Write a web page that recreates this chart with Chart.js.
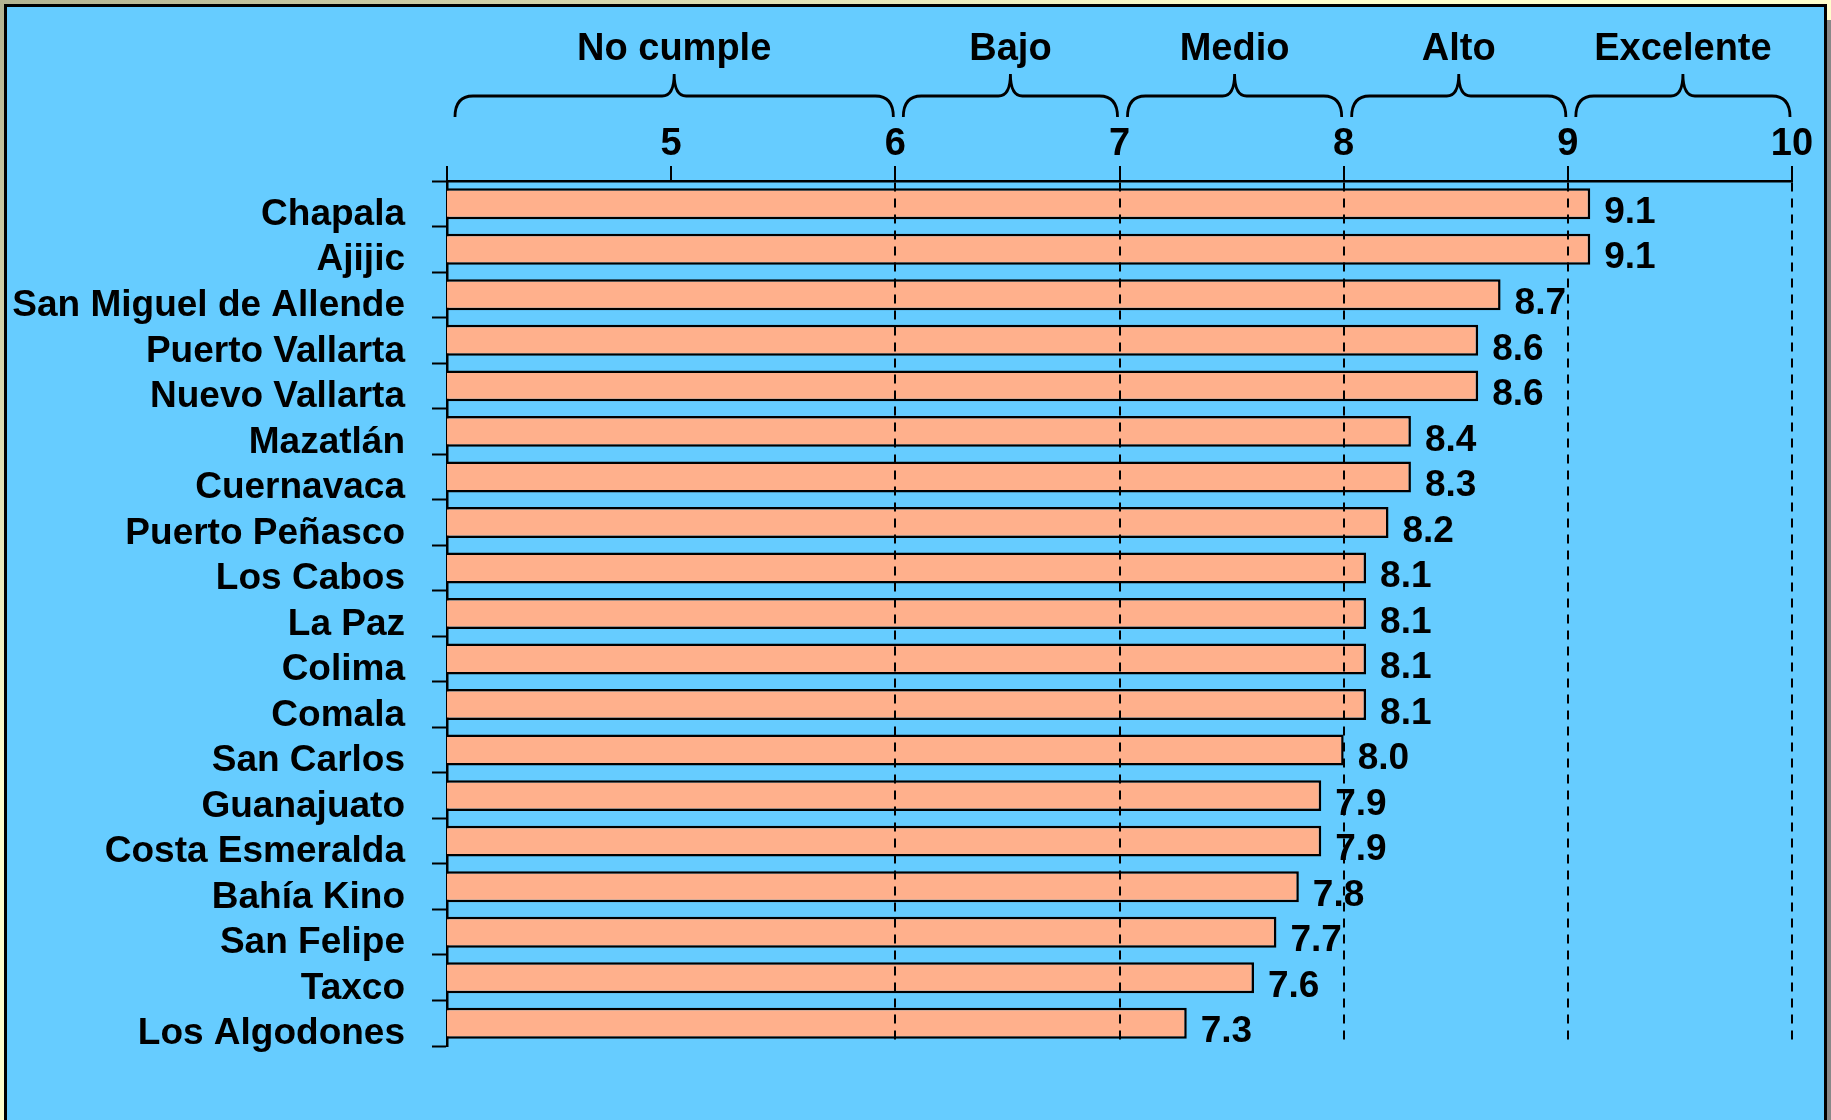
<!DOCTYPE html>
<html>
<head>
<meta charset="utf-8">
<script src="https://cdn.jsdelivr.net/npm/chart.js@4.4.1/dist/chart.umd.min.js"></script>
<style>
  html, body { margin: 0; padding: 0; }
  body { width: 1831px; height: 1120px; overflow: hidden; position: relative;
         background: linear-gradient(to bottom right, #b3b391 0%, #ffffcc 35%, #ffffcc 100%); }
  .shadow { position: absolute; left: 1827px; top: 20px; width: 4px; bottom: 0; background: #888888; }
  .panel { position: absolute; left: 4px; top: 4px; width: 1817px; height: 1130px;
           border: 3px solid #000; background: #66ccff; }
  .wrap { position: absolute; left: 0; top: 0; width: 1831px; height: 1120px; }
</style>
</head>
<body>
<div class="shadow"></div>
<div class="panel"></div>
<div class="wrap"><canvas id="chart"></canvas></div>
<script>
// --- DATA ---
const cities = ['Chapala', 'Ajijic', 'San Miguel de Allende', 'Puerto Vallarta', 'Nuevo Vallarta',
  'Mazatlán', 'Cuernavaca', 'Puerto Peñasco', 'Los Cabos', 'La Paz', 'Colima', 'Comala',
  'San Carlos', 'Guanajuato', 'Costa Esmeralda', 'Bahía Kino', 'San Felipe', 'Taxco', 'Los Algodones'];
const scores = [9.1, 9.1, 8.7, 8.6, 8.6, 8.3, 8.3, 8.2, 8.1, 8.1, 8.1, 8.1, 8.0, 7.9, 7.9, 7.8, 7.7, 7.6, 7.3];
const scoreLabels = ['9.1', '9.1', '8.7', '8.6', '8.6', '8.4', '8.3', '8.2', '8.1', '8.1', '8.1', '8.1',
  '8.0', '7.9', '7.9', '7.8', '7.7', '7.6', '7.3'];
const axisMin = 4, axisMax = 10;
const bandNames = ['No cumple', 'Bajo', 'Medio', 'Alto', 'Excelente'];
const bandFrom = [4, 6, 7, 8, 9];
const bandTo = [6, 7, 8, 9, 10];

const FONT = '"Liberation Sans", Arial, Helvetica, sans-serif';

// value labels at the end of each bar
const valueLabels = {
  id: 'valueLabels',
  afterDraw(chart) {
    const ctx = chart.ctx;
    ctx.save();
    ctx.font = 'bold 37px ' + FONT;
    ctx.fillStyle = '#000';
    ctx.textAlign = 'left';
    ctx.textBaseline = 'middle';
    chart.getDatasetMeta(0).data.forEach((bar, i) => {
      ctx.fillText(scoreLabels[i], bar.x + 14, bar.y + 9);
    });
    ctx.restore();
  }
};

// curly braces + band names above the top axis
const bands = {
  id: 'bands',
  afterDraw(chart) {
    const ctx = chart.ctx;
    const x = chart.scales.x;
    const top = chart.chartArea.top;
    const yEnd = top - 64, yFlat = top - 85, yTip = top - 107, yText = top - 131;
    ctx.save();
    ctx.strokeStyle = '#000';
    ctx.lineWidth = 2.8;
    ctx.font = 'bold 38px ' + FONT;
    ctx.fillStyle = '#000';
    ctx.textAlign = 'center';
    ctx.textBaseline = 'middle';
    bandNames.forEach((name, i) => {
      const x0 = x.getPixelForValue(bandFrom[i]) + 8;
      const x1 = x.getPixelForValue(bandTo[i]) - 2;
      const xm = (x0 + x1) / 2;
      ctx.beginPath();
      ctx.moveTo(x0, yEnd);
      ctx.quadraticCurveTo(x0, yFlat, x0 + 18, yFlat);
      ctx.lineTo(xm - 12, yFlat);
      ctx.quadraticCurveTo(xm, yFlat, xm, yTip);
      ctx.quadraticCurveTo(xm, yFlat, xm + 12, yFlat);
      ctx.lineTo(x1 - 18, yFlat);
      ctx.quadraticCurveTo(x1, yFlat, x1, yEnd);
      ctx.stroke();
      ctx.fillText(name, xm, yText);
    });
    ctx.restore();
  }
};

new Chart(document.getElementById('chart').getContext('2d'), {
  type: 'bar',
  data: {
    labels: cities,
    datasets: [{
      data: scores,
      backgroundColor: '#ffb08c',
      borderColor: '#000',
      borderWidth: 2.5,
      borderSkipped: false,
      barPercentage: 0.68,
      categoryPercentage: 1
    }]
  },
  options: {
    indexAxis: 'y',
    responsive: true,
    maintainAspectRatio: false,
    animation: false,
    layout: { padding: { top: 0, left: 0, right: 39, bottom: 74 } },
    plugins: { legend: { display: false }, tooltip: { enabled: false } },
    scales: {
      x: {
        type: 'linear', position: 'top', min: axisMin, max: axisMax,
        afterFit: s => { s.height = 181; },
        ticks: {
          stepSize: 1, padding: -1, color: '#000',
          font: { family: FONT, size: 38, weight: 'bold' },
          callback: v => v === axisMin ? '' : v
        },
        grid: {
          z: 1,
          color: c => c.tick && c.tick.value >= 6 ? '#000' : 'rgba(0,0,0,0)',
          lineWidth: 2, tickColor: '#000', tickWidth: 2, tickLength: 15, tickBorderDash: []
        },
        border: { display: true, color: '#000', width: 2.5, dash: [9, 7], z: 1 }
      },
      y: {
        afterFit: s => { s.width = 447; },
        ticks: {
          padding: 27, color: '#000', autoSkip: false, labelOffset: 11,
          font: { family: FONT, size: 37, weight: 'bold' }
        },
        grid: { drawOnChartArea: false, tickColor: '#000', tickWidth: 2, tickLength: 15 },
        border: { display: true, color: '#000', width: 2.5 }
      }
    }
  },
  plugins: [valueLabels, bands]
});
</script>
</body>
</html>
